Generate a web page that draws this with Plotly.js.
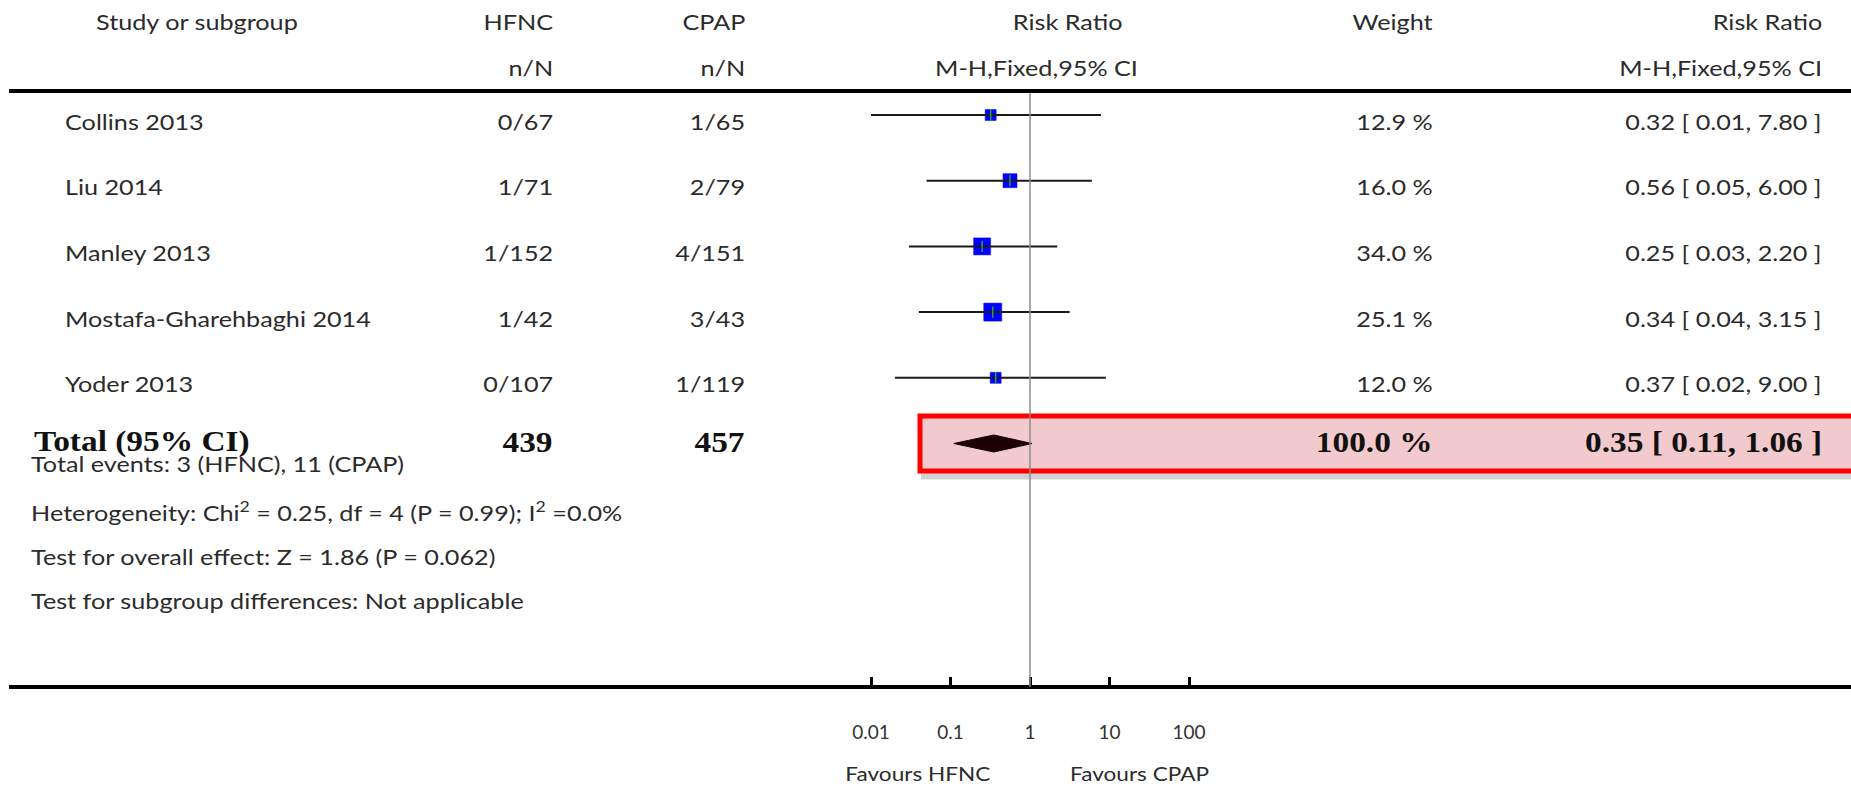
<!DOCTYPE html>
<html>
<head>
<meta charset="utf-8">
<script src="https://cdn.plot.ly/plotly-3.0.1.min.js"></script>
<style>
  html, body { margin: 0; padding: 0; background: #ffffff; }
  #chart { width: 1851px; height: 787px; }
</style>
</head>
<body>
<div id="chart"></div>
<script>
// ---------------- data ----------------
const studies = ['Collins 2013', 'Liu 2014', 'Manley 2013', 'Mostafa-Gharehbaghi 2014', 'Yoder 2013'];
const hfncEvents = ['0/67', '1/71', '1/152', '1/42', '0/107'];
const cpapEvents = ['1/65', '2/79', '4/151', '3/43', '1/119'];
const riskRatio = [0.32, 0.56, 0.25, 0.34, 0.37];
const ciLow = [0.01, 0.05, 0.03, 0.04, 0.02];
const ciHigh = [7.80, 6.00, 2.20, 3.15, 9.00];
const weights = [12.9, 16.0, 34.0, 25.1, 12.0];

const totalLabel = 'Total (95% CI)';
const totalHFNC = 439;
const totalCPAP = 457;
const totalRR = 0.35;
const totalLow = 0.11;
const totalHigh = 1.06;
const totalWeight = 100.0;

const tickValues = [0.01, 0.1, 1, 10, 100];
const tickLabels = ['0.01', '0.1', '1', '10', '100'];

const footnotes = [
  'Total events: 3 (HFNC), 11 (CPAP)',
  'Heterogeneity: Chi<sup>2</sup> = 0.25, df = 4 (P = 0.99); I<sup>2</sup> =0.0%',
  'Test for overall effect: Z = 1.86 (P = 0.062)',
  'Test for subgroup differences: Not applicable'
];

// ---------------- layout helpers ----------------
const W = 1851, H = 787;
const px = v => v / W;            // pixel x -> paper
const py = v => 1 - v / H;        // pixel y -> paper
const ROW0 = 115, ROWH = 65.7;    // pixel centre of first row, row pitch
const yTop = -ROW0 / ROWH, yBot = (H - ROW0) / ROWH;
const X_LEFT = 9, X_ONE = 1030, DECADE = 79.5;
const xr0 = -(X_ONE - X_LEFT) / DECADE;
const xr1 = xr0 + (W - X_LEFT) / DECADE;
const markerSizes = [11, 14, 17, 18, 11];

const rows = studies.map((_, i) => i);
const totalRow = studies.length;

const REG = 'Lato, "Open Sans", sans-serif';
const SERIF = '"Liberation Serif", "Times New Roman", serif';
const txtColor = '#2b2b2b';
const FS = 21;
const REG_STRETCH = 1.2, BOLD_STRETCH = 1.15, FAV_STRETCH = 1.13;

// ---------------- traces ----------------
const ciX = [], ciY = [];
rows.forEach(i => { ciX.push(ciLow[i], ciHigh[i], null); ciY.push(i, i, null); });

const traces = [
  { // squares
    type: 'scatter', mode: 'markers', x: riskRatio, y: rows,
    marker: { symbol: 'square', color: '#0000ff', opacity: 1, size: markerSizes, line: { width: 0.5, color: '#0000ff' } },
    hoverinfo: 'skip', showlegend: false
  },
  { // CI lines
    type: 'scatter', mode: 'lines', x: ciX, y: ciY,
    line: { color: '#1a1a1a', width: 2 }, hoverinfo: 'skip', showlegend: false
  },
  { // point-estimate ticks
    type: 'scatter', mode: 'markers', x: riskRatio, y: rows,
    marker: { symbol: 'line-ns-open', size: 8, line: { color: '#111', width: 1.5 } },
    hoverinfo: 'skip', showlegend: false
  },
  { // total diamond
    type: 'scatter', mode: 'lines',
    x: [totalLow, totalRR, totalHigh, totalRR, totalLow],
    y: [totalRow, totalRow - 0.13, totalRow, totalRow + 0.13, totalRow],
    fill: 'toself', fillcolor: '#1c0202', line: { color: '#1c0202', width: 1 },
    hoverinfo: 'skip', showlegend: false
  }
];

// ---------------- annotations ----------------
const ann = [], annStretch = [];
function t(text, x, y, anchor, opts = {}, stretch = REG_STRETCH) {
  ann.push(Object.assign({
    text, x, y, xref: 'paper', yref: 'paper', xanchor: anchor, yanchor: 'middle',
    showarrow: false, font: { family: REG, size: FS, color: txtColor }
  }, opts));
  annStretch.push(stretch);
}
// header
t('Study or subgroup', px(94), py(21), 'left');
t('HFNC', px(555), py(21), 'right');
t('CPAP', px(747), py(21), 'right');
t('Risk Ratio', px(1067), py(21), 'center');
t('Weight', px(1435), py(21), 'right');
t('Risk Ratio', px(1824), py(21), 'right');
t('n/N', px(555), py(67), 'right');
t('n/N', px(747), py(67), 'right');
t('M-H,Fixed,95% CI', px(1036), py(67), 'center');
t('M-H,Fixed,95% CI', px(1824), py(67), 'right');

// study rows
rows.forEach(i => {
  const o = { yref: 'y', yshift: -6 };
  t(studies[i], px(63), i, 'left', o);
  t(hfncEvents[i], px(555), i, 'right', o);
  t(cpapEvents[i], px(747), i, 'right', o);
  t(weights[i].toFixed(1) + ' %', px(1435), i, 'right', o);
  t(riskRatio[i].toFixed(2) + ' [ ' + ciLow[i].toFixed(2) + ', ' + ciHigh[i].toFixed(2) + ' ]', px(1824), i, 'right', o);
});

// total row
const bold = { yref: 'y', yshift: 2, font: { family: SERIF, size: 29, color: '#111' } };
t('<b>' + totalLabel + '</b>', px(32), totalRow, 'left', bold, BOLD_STRETCH);
t('<b>' + totalHFNC + '</b>', px(555), totalRow, 'right', bold, BOLD_STRETCH);
t('<b>' + totalCPAP + '</b>', px(747), totalRow, 'right', bold, BOLD_STRETCH);
t('<b>' + totalWeight.toFixed(1) + ' %</b>', px(1435), totalRow, 'right', bold, BOLD_STRETCH);
t('<b>' + totalRR.toFixed(2) + ' [ ' + totalLow.toFixed(2) + ', ' + totalHigh.toFixed(2) + ' ]</b>', px(1824), totalRow, 'right', bold, BOLD_STRETCH);

// footnotes
const footY = [464, 511, 556, 600];
footnotes.forEach((f, k) => t(f, px(29), py(footY[k]), 'left'));

// favours labels (annotation x on a log axis is given as log10 value)
const favFont = { family: REG, size: 20, color: txtColor };
t('Favours HFNC', Math.log10(1), py(773), 'right', { xref: 'x', xshift: -38, font: favFont }, FAV_STRETCH);
t('Favours CPAP', Math.log10(1), py(773), 'left', { xref: 'x', xshift: 38, font: favFont }, FAV_STRETCH);

// ---------------- shapes ----------------
const boxHalf = 0.457;
const shapes = [
  { // shadow of highlight box
    type: 'rect', xref: 'paper', yref: 'y', layer: 'below',
    x0: px(921), x1: 1.05, y0: totalRow - boxHalf + 0.09, y1: totalRow + boxHalf + 0.09,
    fillcolor: 'rgba(0,0,0,0.18)', line: { width: 0 }
  },
  { // highlight box
    type: 'rect', xref: 'paper', yref: 'y', layer: 'below',
    x0: px(920), x1: 1.05, y0: totalRow - boxHalf + 0.04, y1: totalRow + boxHalf - 0.04,
    fillcolor: '#f2cacd', line: { color: '#ff0000', width: 5 }
  },
  { // top rule
    type: 'line', xref: 'paper', yref: 'paper', x0: px(9), x1: 1, y0: py(91), y1: py(91),
    line: { color: '#000', width: 4 }
  },
  { // line of no effect
    type: 'line', xref: 'x', yref: 'paper', x0: 1, x1: 1, y0: py(687), y1: py(93),
    line: { color: '#8c8c8c', width: 1.5 }
  }
];

const layout = {
  width: W, height: H,
  margin: { l: 0, r: 0, t: 0, b: 0, pad: 0 },
  paper_bgcolor: '#ffffff', plot_bgcolor: 'rgba(0,0,0,0)',
  showlegend: false,
  xaxis: {
    type: 'log', domain: [X_LEFT / W, 1], range: [xr0, xr1],
    anchor: 'free', position: py(687),
    showgrid: false, zeroline: false,
    showline: true, linecolor: '#000', linewidth: 4,
    ticks: 'inside', ticklen: 8, tickwidth: 3, tickcolor: '#000',
    tickvals: tickValues, ticktext: tickLabels,
    ticklabelstandoff: 27,
    tickfont: { family: REG, size: 19, color: '#333' },
    fixedrange: true
  },
  yaxis: {
    domain: [0, 1], range: [yBot, yTop], visible: false, showgrid: false, zeroline: false,
    fixedrange: true
  },
  annotations: ann,
  shapes: shapes
};

Plotly.newPlot('chart', traces, layout, { staticPlot: true, displayModeBar: false }).then(gd => {
  // widen each annotation's lettering about its own anchor, as in the reference
  gd.querySelectorAll('g.annotation').forEach(g => {
    const idx = +g.getAttribute('data-index');
    const a = layout.annotations[idx];
    const s = annStretch[idx];
    const txt = g.querySelector('text.annotation-text');
    if (!a || !txt || !s || s === 1) return;
    const bb = txt.getBBox();
    const ax = a.xanchor === 'left' ? bb.x : a.xanchor === 'right' ? bb.x + bb.width : bb.x + bb.width / 2;
    const prev = txt.getAttribute('transform') || '';
    txt.setAttribute('transform', prev + ' translate(' + ax + ',0) scale(' + s + ',1) translate(' + (-ax) + ',0)');
  });
});
</script>
</body>
</html>
